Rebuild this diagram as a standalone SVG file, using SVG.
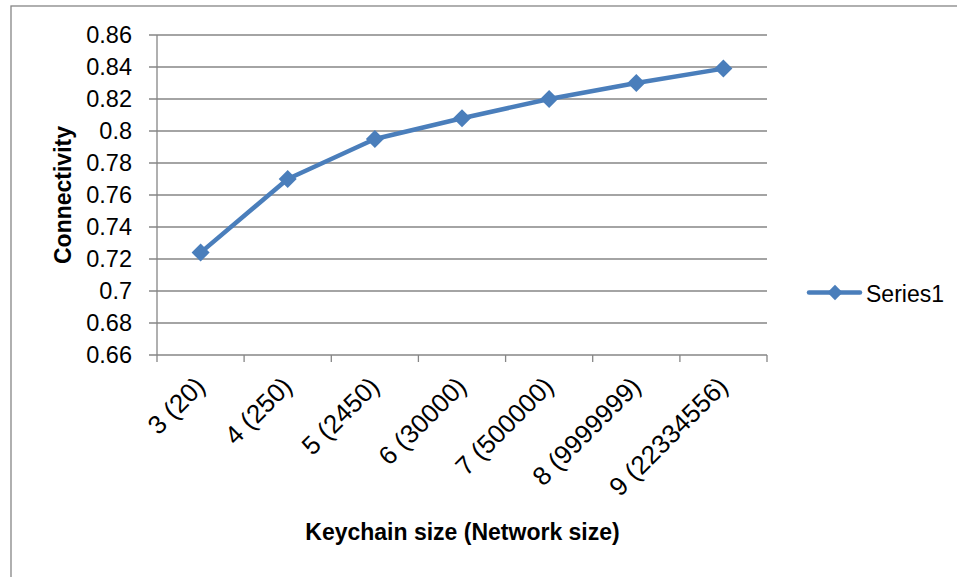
<svg xmlns="http://www.w3.org/2000/svg" width="957" height="577" viewBox="0 0 957 577">
<style>
.frame{fill:#ffffff;stroke:#868686;stroke-width:1.3}
.grid{stroke:#868686;stroke-width:1.3;fill:none}
.tick{font-family:"Liberation Sans",Arial,sans-serif;font-size:23.5px;fill:#000}
.xl{font-size:26px}
.title{font-family:"Liberation Sans",Arial,sans-serif;font-size:23px;font-weight:bold;fill:#000}
.series{stroke:#4a7ebb;stroke-width:4.5;fill:none;stroke-linejoin:round;stroke-linecap:round}
.mk{fill:#4a7ebb}
</style>
<defs>
<path id="dia" d="M0,-9 L9,0 L0,9 L-9,0 Z"/>
</defs>
<rect class="frame" x="11" y="6" width="980" height="620"/>
<g id="gridlines" class="grid">
<path d="M149,35H767M149,67H767M149,99H767M149,131H767M149,163H767M149,195H767M149,227H767M149,259H767M149,291H767M149,323H767M149,355H767"/>
</g>
<g id="axes" class="grid">
<path d="M157,35V355"/>
<path d="M157,355V362M244.1,355V362M331.3,355V362M418.4,355V362M505.6,355V362M592.7,355V362M679.9,355V362M767,355V362"/>
</g>
<g id="y-labels" class="tick" text-anchor="end">
<text x="132" y="43.4">0.86</text>
<text x="132" y="75.4">0.84</text>
<text x="132" y="107.4">0.82</text>
<text x="132" y="139.4">0.8</text>
<text x="132" y="171.4">0.78</text>
<text x="132" y="203.4">0.76</text>
<text x="132" y="235.4">0.74</text>
<text x="132" y="267.4">0.72</text>
<text x="132" y="299.4">0.7</text>
<text x="132" y="331.4">0.68</text>
<text x="132" y="363.4">0.66</text>
</g>
<g id="x-labels" class="tick xl" text-anchor="end">
<text transform="translate(206.6,388) rotate(-45)">3 (20)</text>
<text transform="translate(293.7,388) rotate(-45)">4 (250)</text>
<text transform="translate(380.9,388) rotate(-45)">5 (2450)</text>
<text transform="translate(468,388) rotate(-45)">6 (30000)</text>
<text transform="translate(555.1,388) rotate(-45)">7 (500000)</text>
<text transform="translate(642.3,388) rotate(-45)">8 (9999999)</text>
<text transform="translate(729.4,388) rotate(-45)">9 (22334556)</text>
</g>
<g id="y-title"><text class="title" text-anchor="middle" transform="translate(71,195) rotate(-90)">Connectivity</text></g>
<g id="x-title"><text class="title" text-anchor="middle" x="462.5" y="540">Keychain size (Network size)</text></g>
<g id="series1">
<polyline class="series" points="200.6,252.6 287.7,179 374.9,139 462,118.2 549.1,99 636.3,83 723.4,68.6"/>
<g class="mk">
<use href="#dia" x="200.6" y="252.6"/>
<use href="#dia" x="287.7" y="179"/>
<use href="#dia" x="374.9" y="139"/>
<use href="#dia" x="462" y="118.2"/>
<use href="#dia" x="549.1" y="99"/>
<use href="#dia" x="636.3" y="83"/>
<use href="#dia" x="723.4" y="68.6"/>
</g>
</g>
<g id="legend">
<path class="series" d="M809,292.5H860"/>
<use class="mk" href="#dia" x="835" y="292.5" transform="translate(835,292.5) scale(0.85) translate(-835,-292.5)"/>
<text class="tick" x="866" y="301.5" style="font-size:23px">Series1</text>
</g>
</svg>
